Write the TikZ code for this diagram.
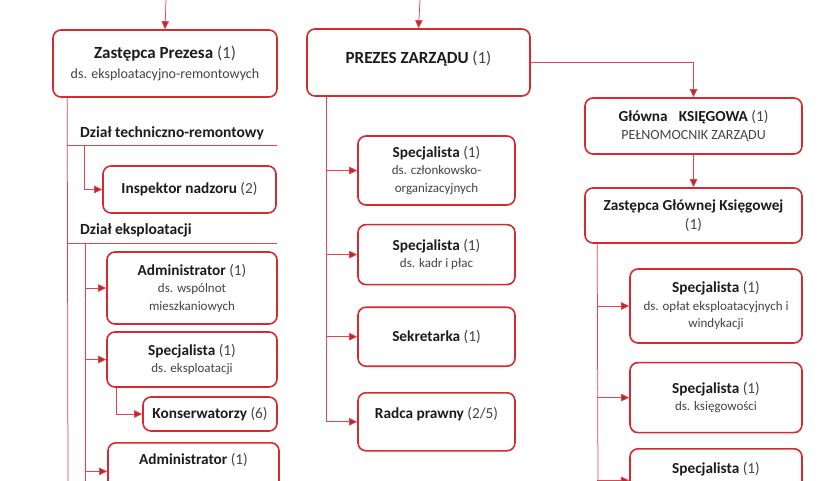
\documentclass[tikz,border=0pt]{standalone}
\usepackage{fontspec}
\setmainfont{Carlito}
\usetikzlibrary{positioning,arrows.meta}
\definecolor{orgred}{HTML}{D42A30}
\definecolor{wirered}{HTML}{E04552}
\definecolor{ink}{HTML}{1C1C1C}
\definecolor{inkgray}{HTML}{444444}
\newcommand{\cnt}[1]{{\mdseries\color{inkgray}(#1)}}
\newcommand{\dsline}[1]{{\mdseries\fontsize{13}{16}\selectfont\color{inkgray}#1}}
\tikzset{
  post/.style    = {rectangle, rounded corners=8pt, draw=orgred, line width=1.6pt, fill=white,
                    align=center, inner sep=2pt, text=ink, font=\bfseries\fontsize{15.3}{17.5}\selectfont},
  bigpost/.style = {post, font=\bfseries\fontsize{17}{20.5}\selectfont},
  cutpost/.style = {post, anchor=north, inner ysep=10pt, text depth=26pt},
  wire/.style    = {draw=wirered, line width=0.75pt},
  link/.style    = {wire, -{Triangle[length=8pt,width=7.5pt,fill=orgred!90!black]}},
  dept/.style    = {anchor=west, inner sep=0pt, text=ink, font=\bfseries\fontsize{15.5}{18}\selectfont},
}
\begin{document}
\begin{tikzpicture}[x=1pt, y=-1pt]
  \useasboundingbox (0,0) rectangle (840,480);
  \clip (0,0) rectangle (840,480);

  % top level
  \coordinate (inL) at (166,0);
  \coordinate (inM) at (420,0);
  \node[bigpost, minimum width=224pt, minimum height=67pt] (zast) at (165,63.5)
       {Zastępca Prezesa \cnt{1}\\ \dsline{\fontsize{14}{16}\selectfont ds. eksploatacyjno-remontowych}};
  \node[bigpost, minimum width=223pt, minimum height=67pt] (prezes) at (418.5,62.5)
       {PREZES ZARZĄDU \cnt{1}\\[-16pt]\strut};
  \node[post, minimum width=217pt, minimum height=56pt] (glowna) at (693.5,126)
       {Główna\hspace{0.5em} KSIĘGOWA \cnt{1}\\ \dsline{\fontsize{14}{16}\selectfont PEŁNOMOCNIK ZARZĄDU}};
  \node[post, minimum width=217pt, minimum height=55pt] (zgk) at (693.5,215.5)
       {Zastępca Głównej Księgowej\\[2pt] \cnt{1}};

  % prezes column
  \node[post, minimum width=157pt, minimum height=69pt] (m1) at (436.5,170.5)
       {Specjalista \cnt{1}\\ \dsline{ds. członkowsko-}\\ \dsline{organizacyjnych}};
  \node[post, minimum width=157pt, minimum height=60pt, below=18pt of m1] (m2)
       {Specjalista \cnt{1}\\ \dsline{ds. kadr i płac}};
  \node[post, minimum width=157pt, minimum height=59pt, below=21pt of m2] (m3)
       {Sekretarka \cnt{1}};
  \node[post, minimum width=157pt, minimum height=58pt, below=25pt of m3] (m4)
       {Radca prawny \cnt{2/5}\\[-4pt]\strut};

  % ksiegowa column
  \node[post, minimum width=172pt, minimum height=74pt] (r1) at (716,306)
       {Specjalista \cnt{1}\\ \dsline{ds. opłat eksploatacyjnych i}\\ \dsline{windykacji}};
  \node[post, minimum width=172pt, minimum height=70pt, below=18pt of r1] (r2)
       {Specjalista \cnt{1}\\ \dsline{ds. księgowości}};
  \node[cutpost, minimum width=172pt, inner ysep=13pt] (r3) at (716,448)
       {Specjalista \cnt{1}};

  % left column
  \node[dept] (techlbl) at (80,133) {Dział techniczno-remontowy};
  \node[post, minimum width=173pt, minimum height=47pt] (insp) at (189.5,189.5)
       {Inspektor nadzoru \cnt{2}};
  \node[dept] (ekslbl) at (80,230) {Dział eksploatacji};
  \node[post, minimum width=170pt, minimum height=72pt] (adm1) at (192,288)
       {Administrator \cnt{1}\\ \dsline{ds. wspólnot}\\ \dsline{mieszkaniowych}};
  \node[post, minimum width=170pt, minimum height=55pt] (spec) at (192,359.5)
       {Specjalista \cnt{1}\\ \dsline{ds. eksploatacji}};
  \node[post, minimum width=134pt, minimum height=34pt] (kons) at (210,414)
       {Konserwatorzy \cnt{6}};
  \node[cutpost, minimum width=171pt, inner ysep=10pt] (adm2) at (193.5,442)
       {Administrator \cnt{1}};

  % connectors
  \draw[link] (inL) -- (zast.north);
  \draw[link] (inM) -- (prezes.north);
  \draw[link] (prezes.east) -| (glowna.north);
  \draw[link] (glowna) -- (zgk);

  \coordinate (mtop) at ([xshift=20pt]prezes.south west);
  \draw[wire] (mtop) -- (mtop |- m4.west);
  \foreach \n in {m1,m2,m3,m4}
    \draw[link] (mtop |- \n.west) -- (\n.west);

  \coordinate (rtop) at ([xshift=13pt]zgk.south west);
  \coordinate (rbot) at (598,485);
  \draw[wire] (rtop) -- (rbot);
  \foreach \n in {r1,r2,r3}
    \draw[link] (rtop |- \n.west) -- (\n.west);

  \coordinate (ltop) at ([xshift=15pt]zast.south west);
  \coordinate (lbot) at (68,485);
  \draw[wire] (ltop) -- (lbot);
  \coordinate (rule1) at (277,145);
  \coordinate (rule2) at (277,243);
  \draw[wire] (ltop |- rule1) -- (rule1);
  \draw[wire] (ltop |- rule2) -- (rule2);

  \coordinate (t1) at (84,145);
  \draw[link] (t1) |- (insp.west);
  \coordinate (e1) at (85,243);
  \coordinate (e2) at (85,485);
  \draw[wire] (e1) -- (e2);
  \foreach \n in {adm1,spec,adm2}
    \draw[link] (e1 |- \n.west) -- (\n.west);
  \draw[link] ([xshift=10pt]spec.south west) |- (kons.west);
\end{tikzpicture}
\end{document}
